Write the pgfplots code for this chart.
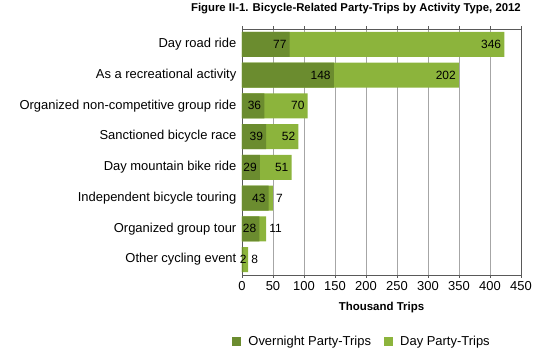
\documentclass[border=0pt]{standalone}
\usepackage{pgfplots}
\pgfplotsset{compat=1.18}
\usepackage{fontspec}
\setmainfont{Liberation Sans}
\definecolor{dk}{HTML}{6B8C2F}
\definecolor{lt}{HTML}{8CB43C}
\begin{document}
\begin{tikzpicture}
\begin{axis}[name=ax, scale only axis, width=279bp, height=246bp,
  xmin=0, xmax=450, ymin=-0.5, ymax=7.5, y dir=reverse,
  xtick={0,50,...,450}, ytick={0,...,7},
  yticklabels={Day road ride, As a recreational activity, Organized non-competitive group ride, Sanctioned bicycle race, Day mountain bike ride, Independent bicycle touring, Organized group tour, Other cycling event},
  xmajorgrids, grid style={gray!70, line width=0.6pt},
  axis line style={gray!70!black, line width=0.7pt},
  tick align=outside, major tick length=3bp,
  xtick style={gray!70!black}, ytick style={draw=none},
  x tick label style={font=\fontsize{13}{15}\selectfont, /pgf/number format/assume math mode=true},
  y tick label style={font=\fontsize{13}{15}\selectfont, inner xsep=2.5bp},
  xlabel={Thousand Trips},
  xlabel style={at={(axis description cs:0.5,0)}, anchor=center, yshift=-32.5bp, font=\bfseries\fontsize{11.5}{13}\selectfont},
  title={Figure II-1. Bicycle-Related Party-Trips by Activity Type, 2012},
  title style={at={(axis description cs:1,1)}, anchor=base east, yshift=12bp, inner sep=0pt, font=\bfseries\fontsize{11.4}{13}\selectfont},
  legend style={at={(axis description cs:0.43,-0.27)}, anchor=center, draw=none, fill=none, font=\fontsize{13}{15}\selectfont, legend columns=2, /tikz/every even column/.append style={column sep=11bp}},
  legend image code/.code={\fill[#1, draw=none] (0bp,-4.5bp) rectangle (9bp,4.5bp); \path (14bp,0bp);},
]
% day (stacked on top of overnight): bar drawn to overnight + day total
\addplot[xbar, bar width=25bp, bar shift=0pt, fill=lt, draw=none, forget plot] coordinates {(423,0) (350,1) (106,2) (91,3) (80,4) (50,5) (39,6) (10,7)};
% overnight
\addplot[xbar, bar width=25bp, bar shift=0pt, fill=dk, draw=none, forget plot] coordinates {(77,0) (148,1) (36,2) (39,3) (29,4) (43,5) (28,6) (2,7)};
% labels inside the bar ends
\addplot[draw=none, mark=none, forget plot, nodes near coords, point meta=explicit symbolic,
  nodes near coords style={anchor=east, xshift=-3bp, inner sep=0pt, font=\fontsize{12}{14}\selectfont, text=black}]
  table[meta=l] {
x y l
77 0 77
423 0 346
148 1 148
350 1 202
36 2 36
106 2 70
39 3 39
91 3 52
29 4 29
80 4 51
43 5 43
28 6 28
};
% labels outside
\addplot[draw=none, mark=none, forget plot, nodes near coords, point meta=explicit symbolic,
  nodes near coords style={anchor=west, xshift=3bp, inner sep=0pt, font=\fontsize{12}{14}\selectfont, text=black}]
  table[meta=l] {
x y l
50 5 7
39 6 11
10 7 8
};
\addplot[draw=none, mark=none, forget plot, nodes near coords, point meta=explicit symbolic,
  nodes near coords style={anchor=center, inner sep=0pt, font=\fontsize{12}{14}\selectfont, text=black}]
  table[meta=l] {
x y l
2 7 2
};
\addlegendimage{fill=dk}
\addlegendentry{Overnight Party-Trips}
\addlegendimage{fill=lt}
\addlegendentry{Day Party-Trips}
\end{axis}
\pgfresetboundingbox
\useasboundingbox ([xshift=-242bp,yshift=-78bp]ax.south west) rectangle ([xshift=19bp,yshift=29bp]ax.north east);
\end{tikzpicture}
\end{document}
